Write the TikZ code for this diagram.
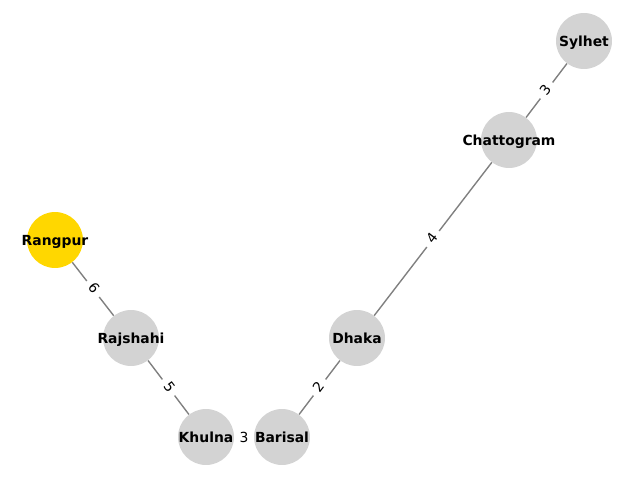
\documentclass[tikz,border=0pt]{standalone}
\usepackage{fontspec}
\setmainfont{DejaVu Sans}
\begin{document}
\begin{tikzpicture}[x=0.72pt,y=-0.72pt,
  city/.style={circle,fill={rgb,255:red,211;green,211;blue,211},minimum size=40.3pt,inner sep=0pt,
    label={[font=\bfseries\fontsize{10pt}{12pt}\selectfont,inner sep=0pt,text height=0.76em,text depth=0.24em,yshift=-1.2pt]center:#1}},
  hub/.style={city=#1,fill={rgb,255:red,255;green,215;blue,0}},
  link/.style={draw={rgb,255:red,128;green,128;blue,128},line width=1pt},
  wt/.style={fill=white,inner sep=4pt,sloped,font=\fontsize{10pt}{12pt}\selectfont,text height=0.76em,text depth=0.24em}]
\useasboundingbox[fill=white] (0,0) rectangle (640,480);
\node[city=Sylhet] (syl) at (584,41) {};
\node[city=Chattogram] (cht) at (509,140) {};
\node[hub=Rangpur] (rng) at (55,240) {};
\node[city=Rajshahi] (raj) at (131,338) {};
\node[city=Dhaka] (dha) at (357,338) {};
\node[city=Khulna] (khu) at (206,437) {};
\node[city=Barisal] (bar) at (282,437) {};
\draw[link] (syl) -- node[wt]{3} (cht);
\draw[link] (cht) -- node[wt]{4} (dha);
\draw[link] (dha) -- node[wt]{2} (bar);
\draw[link] (bar) -- node[wt,yshift=-1.2pt]{3} (khu);
\draw[link] (khu) -- node[wt]{5} (raj);
\draw[link] (raj) -- node[wt]{6} (rng);
\end{tikzpicture}
\end{document}
